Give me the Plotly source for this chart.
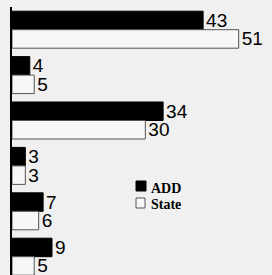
import plotly.graph_objects as go

groups = [0, 1, 2, 3, 4, 5]
add_values = [43, 4, 34, 3, 7, 9]
state_values = [51, 5, 30, 3, 6, 5]
series_names = ["ADD", "State"]

fig = go.Figure()
fig.add_trace(go.Bar(
    y=groups, x=add_values, orientation="h", name=series_names[0],
    marker=dict(color="#000000", line=dict(color="#000000", width=1)),
    text=[str(v) for v in add_values], textposition="outside",
    textfont=dict(family="Liberation Sans, Arial", size=19, color="#000000"),
    constraintext="none", cliponaxis=False, hoverinfo="skip",
))
fig.add_trace(go.Bar(
    y=groups, x=state_values, orientation="h", name=series_names[1],
    marker=dict(color="#f7f7f7", line=dict(color="#555555", width=1)),
    text=[str(v) for v in state_values], textposition="outside",
    textfont=dict(family="Liberation Sans, Arial", size=19, color="#000000"),
    constraintext="none", cliponaxis=False, hoverinfo="skip",
))

# hand-built legend (paper coordinates)
W, H = 260.0, 268.0
def px_x(p):
    return (p - 12) / W
def px_y(p):
    return 1 - (p - 7) / H

fig.add_shape(type="rect", xref="paper", yref="paper",
              x0=px_x(136), x1=px_x(146), y0=px_y(191), y1=px_y(181),
              fillcolor="#000000", line=dict(color="#000000", width=1))
fig.add_shape(type="rect", xref="paper", yref="paper",
              x0=px_x(136), x1=px_x(145), y0=px_y(208), y1=px_y(198),
              fillcolor="#f7f7f7", line=dict(color="#555555", width=1))
legend_font = dict(family="Liberation Serif, Times New Roman", size=14, color="#000000", weight="bold")
fig.add_annotation(xref="paper", yref="paper", x=px_x(149), y=px_y(188),
                   xanchor="left", yanchor="middle", text=series_names[0],
                   showarrow=False, font=legend_font)
fig.add_annotation(xref="paper", yref="paper", x=px_x(149), y=px_y(204.5),
                   xanchor="left", yanchor="middle", text=series_names[1],
                   showarrow=False, font=legend_font)

fig.update_layout(
    width=272, height=275,
    margin=dict(l=12, r=0, t=7, b=0),
    paper_bgcolor="#f0f0f0", plot_bgcolor="#f0f0f0",
    barmode="group", bargap=0.185, bargroupgap=0,
    showlegend=False, hovermode=False,
    xaxis=dict(range=[0, 58.5], showgrid=False, zeroline=False, showticklabels=False,
               ticks="", showline=False, fixedrange=True),
    yaxis=dict(range=[5.403, -0.5], showgrid=False, zeroline=False, showticklabels=False,
               ticks="", showline=True, linecolor="#000000", linewidth=2, fixedrange=True),
)

fig.write_html("out.html", config={"displayModeBar": False, "staticPlot": True},
               post_script="document.body.style.margin='0';document.body.style.overflow='hidden';")
